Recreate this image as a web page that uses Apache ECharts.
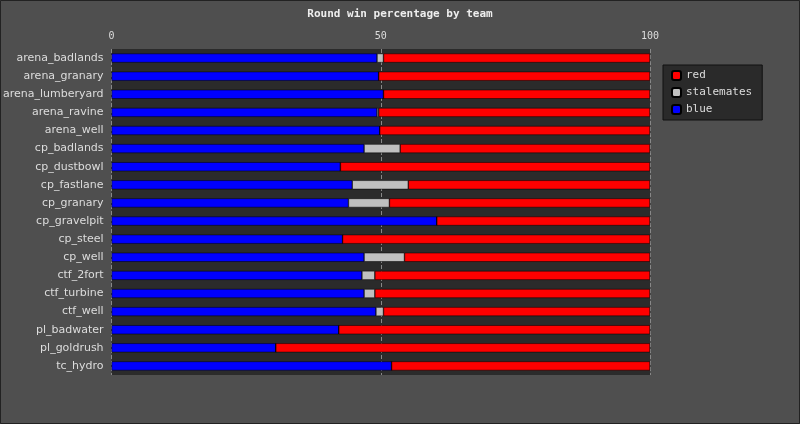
<!DOCTYPE html>
<html><head><meta charset="utf-8">
<script src="https://cdn.jsdelivr.net/npm/echarts@6/dist/echarts.min.js"></script>
<style>html,body{margin:0;background:#4f4f4f}#c{width:800px;height:424px}</style>
</head><body><div id="c"></div>
<script>
var maps = ['arena_badlands','arena_granary','arena_lumberyard','arena_ravine','arena_well','cp_badlands','cp_dustbowl','cp_fastlane','cp_granary','cp_gravelpit','cp_steel','cp_well','ctf_2fort','ctf_turbine','ctf_well','pl_badwater','pl_goldrush','tc_hydro'];
var blue = [49.3,49.6,50.5,49.3,49.8,46.9,42.5,44.7,44.0,60.4,42.9,46.9,46.5,46.9,49.1,42.2,30.5,52.0];
var stalemates = [1.2,0,0,0.3,0,6.7,0,10.4,7.6,0,0,7.5,2.4,2.0,1.4,0,0,0];
var red = [49.5,50.4,49.5,50.4,50.2,46.4,57.5,44.9,48.4,39.6,57.1,45.6,51.1,51.1,49.5,57.8,69.5,48.0];

var myChart = echarts.init(document.getElementById('c'));
var mono = 'DejaVu Sans Mono';
function s(name, data, color) {
  return { name: name, type: 'bar', stack: 'all', data: data, barWidth: 9,
    itemStyle: { color: color, borderColor: '#000', borderWidth: 0.5 } };
}
myChart.setOption({
  backgroundColor: '#4f4f4f',
  animation: false,
  title: { text: 'Round win percentage by team', left: 'center', top: 4,
    textStyle: { color: '#eee', fontFamily: mono, fontSize: 11, fontWeight: 'bold' } },
  graphic: [{ type: 'rect', shape: { x: 0.5, y: 0.5, width: 799, height: 423 },
    style: { fill: null, stroke: '#222', lineWidth: 1 } }],
  legend: { orient: 'vertical', left: 663, top: 65, itemWidth: 9, itemHeight: 9, itemGap: 6,
    padding: [5, 10, 5, 8], backgroundColor: '#2a2a2a', borderColor: '#111', borderWidth: 1,
    data: ['red', 'stalemates', 'blue'],
    textStyle: { color: '#ddd', fontFamily: mono, fontSize: 11 } },
  grid: { left: 100, right: 150, top: 49, bottom: 49, backgroundColor: '#2b2b2b', show: true, borderWidth: 0 },
  xAxis: { type: 'value', position: 'top', min: 0, max: 100, interval: 50,
    axisLabel: { color: '#ddd', fontFamily: mono, fontSize: 10 },
    axisLine: { show: false }, axisTick: { show: false },
    splitLine: { lineStyle: { color: '#888', type: 'dashed' } } },
  yAxis: { type: 'category', inverse: true, data: maps,
    axisLabel: { color: '#ddd', fontSize: 11, fontFamily: 'DejaVu Sans' },
    axisLine: { show: false }, axisTick: { show: false } },
  series: [s('blue', blue, '#0000ff'), s('stalemates', stalemates, '#c0c0c0'), s('red', red, '#ff0000')]
});
</script></body></html>
